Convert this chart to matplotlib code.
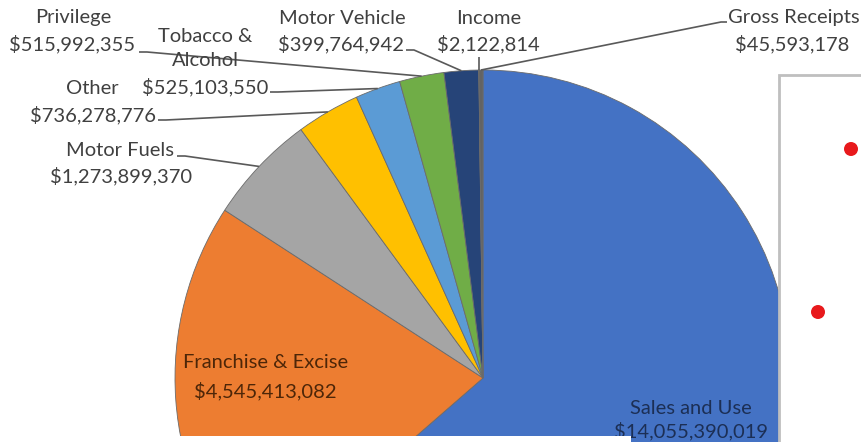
import numpy as np
import matplotlib
matplotlib.use("Agg")
import matplotlib.pyplot as plt
from matplotlib.patches import Rectangle, Circle

# ---- data ----
categories = ["Sales and Use", "Franchise & Excise", "Motor Fuels", "Other",
              "Tobacco & Alcohol", "Privilege", "Motor Vehicle", "Income",
              "Gross Receipts"]
values = [14055390019, 4545413082, 1273899370, 736278776,
          525103550, 515992355, 399764942, 2122814, 45593178]
colors = ["#4472C4", "#ED7D31", "#A5A5A5", "#FFC000", "#5B9BD5",
          "#70AD47", "#264478", "#9E480E", "#636363"]
label_lines = {
    "Sales and Use": ["Sales and Use"],
    "Franchise & Excise": ["Franchise & Excise"],
    "Motor Fuels": ["Motor Fuels"],
    "Other": ["Other"],
    "Tobacco & Alcohol": ["Tobacco &", "Alcohol"],
    "Privilege": ["Privilege"],
    "Motor Vehicle": ["Motor Vehicle"],
    "Income": ["Income"],
    "Gross Receipts": ["Gross Receipts"],
}

W, H = 861, 442
FONT = "Lato"
FS = 14.5


def P(px, py):
    """pixel (top-left origin) -> data coords"""
    return px, H - py


fig = plt.figure(figsize=(W / 100, H / 100), dpi=100)
ax = fig.add_axes([0, 0, 1, 1])

cx, cy = P(483, 378)
R = 308
wedges, _ = ax.pie(values, colors=colors, startangle=90, counterclock=False,
                   radius=R, center=(cx, cy), frame=True,
                   wedgeprops=dict(linewidth=0.6, edgecolor="#6b6b6b"))
ax.set_xlim(0, W)
ax.set_ylim(0, H)
ax.set_aspect("equal")
ax.axis("off")


def fmt(v):
    return "${:,}".format(v)


def anchor(i):
    w = wedges[i]
    a = np.deg2rad((w.theta1 + w.theta2) / 2)
    return cx + R * np.cos(a), cy + R * np.sin(a)


# outer label layout: (text line centres in pixels, leader start, elbow)
outer = {
    "Privilege": dict(lines=[(73, 18), (72, 44)], start=(139, 52), elbow=(147, 52)),
    "Tobacco & Alcohol": dict(lines=[(205, 36), (205, 61), (205, 87)],
                              start=(270, 92), elbow=(278, 92)),
    "Other": dict(lines=[(92, 89), (93, 115)], start=(158, 120), elbow=(166, 120)),
    "Motor Fuels": dict(lines=[(120, 150), (121, 176)], start=(177, 156), elbow=(185, 156)),
    "Motor Vehicle": dict(lines=[(342, 18), (341, 44)], start=(406, 50), elbow=(414, 50)),
    "Income": dict(lines=[(489, 18), (488, 44)], start=None, elbow=None),
    "Gross Receipts": dict(lines=[(794, 18), (792, 44)], start=(727, 22), elbow=(721, 22)),
}
line_col = "#595959"
txt_col = "#404040"

for name, spec in outer.items():
    i = categories.index(name)
    texts = label_lines[name] + [fmt(values[i])]
    for (px, py), t in zip(spec["lines"], texts):
        x, y = P(px, py)
        ax.text(x, y, t, ha="center", va="center", fontsize=FS, family=FONT,
                color=txt_col, zorder=5)
    ax_, ay_ = anchor(i)
    if spec["start"] is None:
        xs = [ax_, ax_]
        ys = [P(0, 57)[1], ay_]
    else:
        s = P(*spec["start"]); e = P(*spec["elbow"])
        xs = [s[0], e[0], ax_]
        ys = [s[1], e[1], ay_]
    ax.plot(xs, ys, color=line_col, lw=1.2, zorder=4, solid_capstyle="butt")

# inner labels
inner = {
    "Franchise & Excise": dict(lines=[(266, 363), (265, 391)], color="#4d2608"),
    "Sales and Use": dict(lines=[(691, 408), (691, 431)], color="#1c2f55"),
}
for name, spec in inner.items():
    i = categories.index(name)
    texts = label_lines[name] + [fmt(values[i])]
    for (px, py), t in zip(spec["lines"], texts):
        x, y = P(px, py)
        ax.text(x, y, t, ha="center", va="center", fontsize=FS, family=FONT,
                color=spec["color"], zorder=5)

# overlay: white strip at bottom-left
ax.add_patch(Rectangle(P(0, 442), 631, 6, facecolor="white", edgecolor="none", zorder=8))
# right-hand panel with bullets
ax.add_patch(Rectangle(P(779, 445), 100, 445 - 75, facecolor="white",
                       edgecolor="#bfbfbf", lw=2, zorder=9))
for bx, by in [(851, 149), (818, 312)]:
    ax.add_patch(Circle(P(bx, by), 7, facecolor="#e8191c", edgecolor="none", zorder=10))

fig.savefig("out.png", dpi=100)
